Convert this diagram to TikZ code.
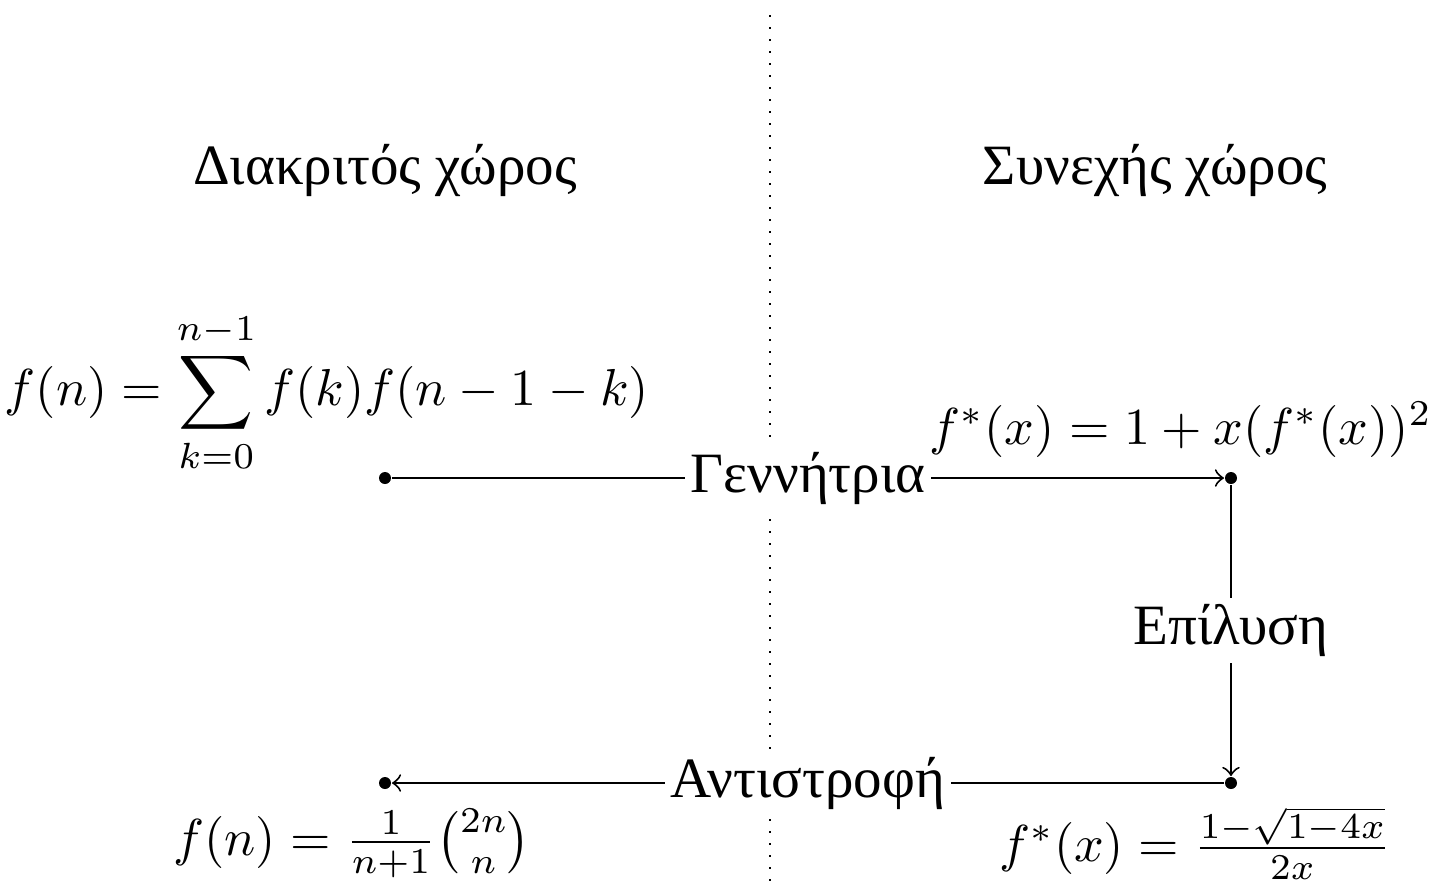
\documentclass[tikz,border=0pt]{standalone}
\usepackage{amsmath}
\usepackage{graphicx}
\usepackage{fontspec}
\newfontfamily\greekfont{Liberation Serif}
\newcommand{\eqbox}[1]{\scalebox{1.04}{#1}}
\begin{document}
\begin{tikzpicture}[x=0.2pt,y=-0.2pt,
  font=\fontsize{10}{12}\selectfont,
  dot/.style={circle,fill,inner sep=0pt,minimum size=2.4pt},
  lbl/.style={fill=white,inner sep=1.2pt,font=\greekfont\fontsize{11.4}{14}\selectfont},
  title/.style={font=\greekfont\fontsize{11.4}{14}\selectfont},
  eq/.style={inner sep=0pt}]
\useasboundingbox (0,0) rectangle (1431,882);
\draw[dotted] (770,15) -- (770,882);
\node[dot] (a) at (385,478) {};
\node[dot] (b) at (1231,478) {};
\node[dot] (c) at (1231,783) {};
\node[dot] (d) at (385,783) {};
\draw[->] (a) -- node[lbl] (g) {Γεννήτρια} (b);
\draw[->] (b) -- node[lbl] (s) {Επίλυση} (c);
\draw[->] (c) -- node[lbl] (r) {Αντιστροφή} (d);
\node[title] (t1) at (385,170) {Διακριτός χώρος};
\node[title] (t2) at (1155,170) {Συνεχής χώρος};
\node[eq] (e1) at (327,393) {\eqbox{$\displaystyle f(n)=\sum_{k=0}^{n-1} f(k)f(n-1-k)$}};
\node[eq] (e2) at (1181,430) {\eqbox{$f^*(x)=1+x(f^*(x))^2$}};
\node[eq] (e3) at (352,843) {\eqbox{$f(n)=\frac{1}{n+1}\binom{2n}{n}$}};
\node[eq] (e4) at (1195,843) {\eqbox{$f^*(x)=\frac{1-\sqrt{1-4x}}{2x}$}};
\end{tikzpicture}
\end{document}
